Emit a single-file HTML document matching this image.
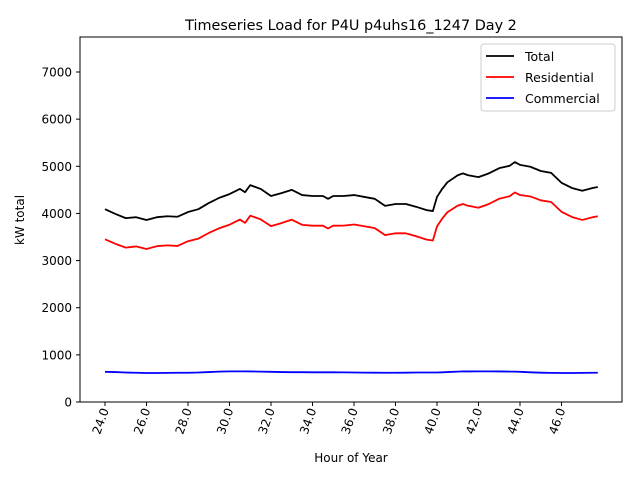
<!DOCTYPE html>
<html><head><meta charset="utf-8"><style>
body{margin:0;background:#fff}
svg{font-family:"DejaVu Sans","Liberation Sans",sans-serif}
</style></head><body>
<svg id="chart" width="640" height="480">
<text x="351" y="30" font-size="14.4" text-anchor="middle">Timeseries Load for P4U p4uhs16_1247  Day 2</text>
<rect x="80" y="37" width="542" height="365" fill="none" stroke="#000" stroke-width="1"/>
<g id="yaxis"></g>
<g id="xaxis"></g>
<g id="series"></g>
<text x="24" y="220" font-size="12" text-anchor="middle" transform="rotate(-90 24 220)">kW total</text>
<text x="351" y="462" font-size="12" text-anchor="middle">Hour of Year</text>
<g>
<rect x="481" y="44" width="134" height="67" rx="3" fill="#fff" stroke="#ccc"/>
<line x1="486" y1="56" x2="514" y2="56" stroke="#000" stroke-width="1.8"/>
<text x="525" y="61" font-size="12.5">Total</text>
<line x1="486" y1="77" x2="514" y2="77" stroke="#f00" stroke-width="1.8"/>
<text x="525" y="82" font-size="12.5">Residential</text>
<line x1="486" y1="98" x2="514" y2="98" stroke="#00f" stroke-width="1.8"/>
<text x="525" y="103" font-size="12.5">Commercial</text>
</g>
</svg>
<script>
const hours=[24,24.5,25,25.5,26,26.5,27,27.5,28,28.5,29,29.5,30,30.5,30.75,31,31.5,32,32.5,33,33.5,34,34.5,34.75,35,35.5,36,36.5,37,37.5,38,38.5,39,39.5,39.8,40,40.25,40.5,41,41.25,41.5,42,42.5,43,43.5,43.75,44,44.5,45,45.5,46,46.5,47,47.5,47.75];
const total=[4090,3990,3900,3920,3860,3920,3940,3930,4030,4090,4220,4330,4410,4520,4450,4600,4520,4370,4430,4500,4390,4370,4370,4310,4370,4370,4390,4350,4310,4160,4200,4200,4140,4070,4050,4350,4520,4660,4810,4850,4810,4770,4850,4960,5010,5090,5030,4990,4900,4860,4650,4540,4480,4540,4560];
const commercial=[640,635,625,620,615,615,618,620,620,625,635,645,650,650,650,648,645,640,635,632,632,630,630,630,630,628,625,623,622,620,620,622,625,625,625,625,630,635,645,650,648,650,650,648,645,645,640,630,622,618,615,615,618,620,620];
const residential=[3450,3355,3275,3300,3245,3305,3322,3310,3410,3465,3585,3685,3760,3870,3800,3952,3875,3730,3795,3868,3758,3740,3740,3680,3740,3742,3765,3727,3688,3540,3580,3578,3515,3445,3425,3725,3890,4025,4165,4200,4162,4120,4200,4312,4365,4445,4390,4360,4278,4242,4035,3925,3862,3920,3940];
const yTicks=[0,1000,2000,3000,4000,5000,6000,7000];
const xTicks=[24,26,28,30,32,34,36,38,40,42,44,46];
const ns="http://www.w3.org/2000/svg";
const X=h=>105+(h-24)*20.75, Y=v=>402-v*0.047143;
function mk(t,a,p){const e=document.createElementNS(ns,t);for(const k in a)e.setAttribute(k,a[k]);p.appendChild(e);return e;}
const ya=document.getElementById('yaxis'),xa=document.getElementById('xaxis'),sg=document.getElementById('series');
yTicks.forEach(v=>{
  const l=mk('line',{x1:76,x2:80,y1:Y(v),y2:Y(v),stroke:'#000'},ya);
  
  
  const t=mk('text',{x:72,y:Y(v)+4.5,'font-size':12,'text-anchor':'end'},ya);t.textContent=v;
  
  
});
xTicks.forEach(v=>{
  const l=mk('line',{x1:X(v),x2:X(v),y1:402,y2:406,stroke:'#000'},xa);
  
  
  const x=X(v)+4,y=410;
  const t=mk('text',{x:x,y:y,'font-size':12,'text-anchor':'end',transform:`rotate(-70 ${x} ${y})`},xa);t.textContent=v.toFixed(1);
  
  
});
[[total,'#000','total-line'],[residential,'#f00','residential-line'],[commercial,'#00f','commercial-line']].forEach(([d,c,n])=>{
  const p=mk('polyline',{points:d.map((v,i)=>X(hours[i])+','+Y(v)).join(' '),fill:'none',stroke:c,'stroke-width':1.8,'stroke-linejoin':'round'},sg);
  
  
});
</script>
</body></html>
